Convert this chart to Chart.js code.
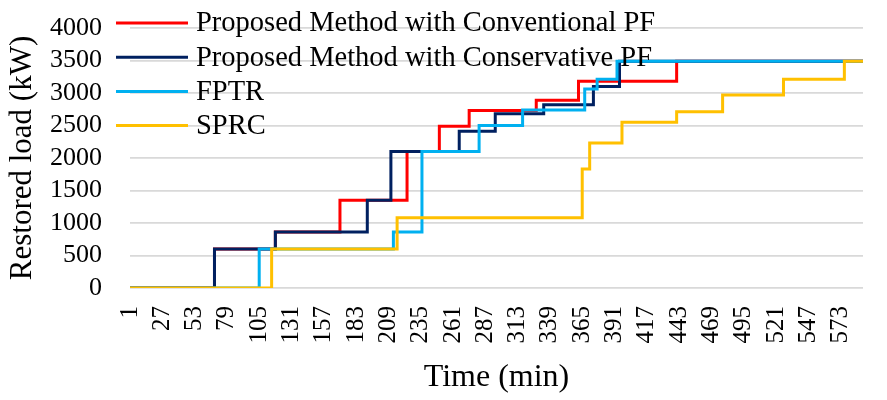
<!DOCTYPE html>
<html>
<head>
<meta charset="utf-8">
<script src="https://cdn.jsdelivr.net/npm/chart.js@4"></script>
<style>
  body { margin: 0; background: #fff; }
  #wrap { width: 887px; height: 400px; }
</style>
</head>
<body>
<div id="wrap"><canvas id="loadChart" width="887" height="400"></canvas></div>
<script>
// step data: time (min) at which restored load jumps to the given value (kW)
const convTime = [1, 69, 118, 170, 224, 250, 274, 328, 362, 441, 591];
const convLoad = [0, 600, 860, 1350, 2100, 2490, 2730, 2890, 3180, 3490, 3490];

const consTime = [1, 69, 118, 192, 211, 266, 295, 334, 374, 395, 591];
const consLoad = [0, 600, 860, 1350, 2100, 2410, 2680, 2820, 3100, 3490, 3490];

const fptrTime = [1, 105, 213, 236, 282, 317, 367, 377, 393, 591];
const fptrLoad = [0, 600, 860, 2100, 2500, 2740, 3060, 3210, 3490, 3490];

const sprcTime = [1, 115, 216, 365, 371, 397, 441, 478, 527, 576, 591];
const sprcLoad = [0, 600, 1080, 1830, 2230, 2550, 2710, 2970, 3210, 3490, 3490];

const xTickLabels = [1, 27, 53, 79, 105, 131, 157, 183, 209, 235, 261, 287, 313, 339, 365, 391, 417, 443, 469, 495, 521, 547, 573];

const seriesNames = ['Proposed Method with Conventional PF', 'Proposed Method with Conservative PF', 'FPTR', 'SPRC'];
const seriesColors = ['#FF0000', '#002060', '#00B0F0', '#FFC000'];

const toPoints = (times, loads) => times.map((t, i) => ({ x: t, y: loads[i] }));

const serif = 'Liberation Serif, Times New Roman, serif';

// legend drawn over the plot like in the original figure
const overlayLegend = {
    id: 'overlayLegend',
    afterDatasetsDraw(chart) {
        const ctx = chart.ctx;
        ctx.save();
        chart.data.datasets.forEach((ds, i) => {
            const y = 23 + i * 34.2;
            ctx.strokeStyle = ds.borderColor;
            ctx.lineWidth = 3;
            ctx.beginPath();
            ctx.moveTo(116, y);
            ctx.lineTo(188, y);
            ctx.stroke();
            ctx.fillStyle = '#000';
            ctx.font = '28.5px ' + serif;
            ctx.textBaseline = 'middle';
            ctx.fillText(ds.label, 196, y + 1);
        });
        ctx.restore();
    }
};

const datasets = [
    toPoints(convTime, convLoad),
    toPoints(consTime, consLoad),
    toPoints(fptrTime, fptrLoad),
    toPoints(sprcTime, sprcLoad)
].map((pts, i) => ({
    label: seriesNames[i],
    data: pts,
    borderColor: seriesColors[i],
    backgroundColor: seriesColors[i],
    borderWidth: 3,
    pointRadius: 0,
    stepped: true,
    fill: false,
    order: 3 - i   // later series painted on top
}));

const ctx = document.getElementById('loadChart').getContext('2d');
// eslint-disable-next-line no-undef
new Chart(ctx, {
    type: 'line',
    data: { datasets },
    options: {
        responsive: false,
        animation: false,
        devicePixelRatio: 1,
        layout: { padding: { top: 28, right: 24, left: 0, bottom: 0 } },
        plugins: {
            legend: { display: false },
            tooltip: { enabled: false }
        },
        scales: {
            x: {
                type: 'linear',
                min: 1,
                max: 591,
                afterBuildTicks: (scale) => {
                    scale.ticks = xTickLabels.map(v => ({ value: v }));
                },
                afterFit: (scale) => {
                    scale.height = 112;
                    scale.paddingLeft = 0;
                    scale.paddingRight = 0;
                },
                grid: { display: false, drawTicks: false },
                border: { display: false },
                ticks: {
                    autoSkip: false,
                    minRotation: 90,
                    maxRotation: 90,
                    padding: 18,
                    color: '#000',
                    font: { family: serif, size: 25 },
                    callback: (v) => String(v)
                },
                title: {
                    display: true,
                    text: 'Time (min)',
                    color: '#000',
                    font: { family: serif, size: 32 },
                    padding: { top: 0, bottom: 3 }
                }
            },
            y: {
                min: 0,
                max: 4000,
                afterFit: (scale) => {
                    scale.width = 130;
                    scale.paddingTop = 0;
                    scale.paddingBottom = 0;
                },
                grid: { color: '#D9D9D9', lineWidth: 1.8, drawTicks: false },
                border: { display: false },
                ticks: {
                    stepSize: 500,
                    autoSkip: false,
                    padding: 28,
                    color: '#000',
                    font: { family: serif, size: 26 },
                    callback: (v) => String(v)
                },
                title: {
                    display: true,
                    text: 'Restored load (kW)',
                    color: '#000',
                    font: { family: serif, size: 31 },
                    padding: { top: 4, bottom: 0 }
                }
            }
        }
    },
    plugins: [overlayLegend]
});
</script>
</body>
</html>
